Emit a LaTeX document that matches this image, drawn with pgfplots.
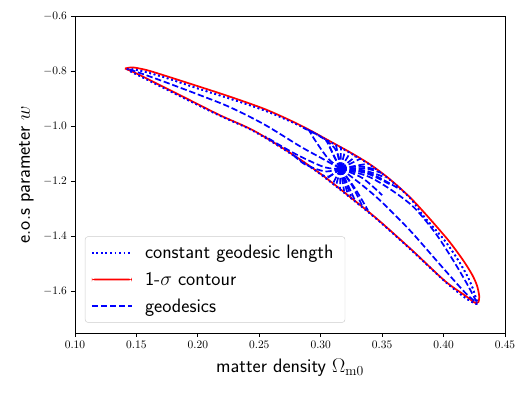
\documentclass[border=0pt]{standalone}
\usepackage{pgfplots}
\pgfplotsset{compat=1.18}
\pgfplotstableread{
x y
0.1423 -0.7920
0.1488 -0.7945
0.1611 -0.8073
0.1749 -0.8255
0.2018 -0.8655
0.2262 -0.9000
0.2538 -0.9418
0.2750 -0.9818
0.2913 -1.0164
0.3076 -1.0564
0.3239 -1.0964
0.3401 -1.1400
0.3564 -1.1945
0.3727 -1.2600
0.3833 -1.3236
0.3947 -1.3818
0.4028 -1.4255
0.4126 -1.4909
0.4191 -1.5418
0.4232 -1.5818
0.4260 -1.6182
0.4276 -1.6436
0.4250 -1.6418
0.4175 -1.6218
0.4012 -1.5636
0.3755 -1.4564
0.3483 -1.3473
0.3295 -1.2782
0.2994 -1.1727
0.2726 -1.0909
0.2449 -1.0164
0.2180 -0.9618
0.1912 -0.9036
0.1635 -0.8418
0.1513 -0.8145
0.1448 -0.8000
0.1423 -0.7920
}\dottedtable
\begin{document}
\begin{tikzpicture}
\path[use as bounding box] (-65.45pt,-55pt) rectangle (395.35pt,290.6pt);
\begin{axis}[
  at={(0pt,0pt)}, anchor=south west,
  scale only axis, width=375.3pt, height=276.6pt,
  xmin=0.10, xmax=0.45, ymin=-1.75, ymax=-0.6,
  xtick={0.10,0.15,0.20,0.25,0.30,0.35,0.40,0.45},
  ytick={-1.6,-1.4,-1.2,-1.0,-0.8,-0.6},
  xticklabel style={/pgf/number format/.cd,fixed,fixed zerofill,precision=2},
  yticklabel style={/pgf/number format/.cd,fixed,fixed zerofill,precision=1},
  tick align=outside, xtick pos=bottom, ytick pos=left,
  major tick length=3.5pt,
  axis line style={line width=0.8pt},
  every tick/.style={black,line width=0.8pt},
  xlabel={matter density $\Omega_{\mathrm{m0}}$},
  ylabel={e.o.s parameter $w$},
  x label style={at={(axis description cs:0.5,-0.1262)}, anchor=base, font=\sffamily\fontsize{17}{20}\selectfont},
  y label style={at={(axis description cs:-0.1047,0.5)}, rotate=0, anchor=base, font=\sffamily\fontsize{17}{20}\selectfont},
  legend cell align=left,
  legend image code/.code={\draw[#1] (0pt,0pt) -- (35pt,0pt);},
  legend style={at={(axis description cs:0.0232,0.0325)}, anchor=south west,
    draw=black!20, rounded corners=2.5pt, fill=white,
    font=\sffamily\fontsize{17}{20}\selectfont, row sep=6.2pt, inner xsep=5pt, inner ysep=5.5pt,
    /tikz/every odd column/.append style={column sep=8.7pt}},
  dotsty/.style={color=blue, line width=1.5pt, dash pattern=on 1.5pt off 2.475pt, smooth, tension=0.5},
  geo/.style={color=blue, line width=1.5pt, dash pattern=on 5.55pt off 2.4pt, smooth, tension=0.5, forget plot},
]
% constant geodesic length (legend entry 1)
\addplot[dotsty] table {\dottedtable};
\addlegendentry{constant geodesic length\hspace*{3pt}}
% 1-sigma contour (legend entry 2)
\addplot[color=red, line width=1.5pt, solid, smooth, tension=0.5,
  legend image code/.code={\fill[red,draw=none] (0pt,-0.75pt) rectangle (35pt,0.75pt);}] coordinates {
(0.1407,-0.7902) (0.1472,-0.7865) (0.1586,-0.7964) (0.1733,-0.8164) (0.2018,-0.8571)
(0.2262,-0.8927) (0.2538,-0.9364) (0.2750,-0.9782) (0.2913,-1.0145) (0.3076,-1.0545)
(0.3239,-1.0945) (0.3401,-1.1382) (0.3564,-1.1927) (0.3727,-1.2582) (0.3849,-1.3164)
(0.3971,-1.3782) (0.4053,-1.4218) (0.4158,-1.4855) (0.4232,-1.5382) (0.4272,-1.5782)
(0.4290,-1.6164) (0.4284,-1.6373) (0.4268,-1.6420) (0.4240,-1.6364) (0.4188,-1.6182) (0.4012,-1.5618)
(0.3755,-1.4545) (0.3483,-1.3455) (0.3295,-1.2764) (0.2994,-1.1709) (0.2726,-1.0891)
(0.2449,-1.0145) (0.2180,-0.9600) (0.1912,-0.9000) (0.1635,-0.8382) (0.1513,-0.8109)
(0.1448,-0.7982) (0.1407,-0.7902)};
\addlegendentry{1-$\sigma$ contour}
% geodesics (legend entry 3)
\addplot[color=blue, line width=1.5pt, dash pattern=on 5.55pt off 2.4pt, smooth, tension=0.5] coordinates {(0.3161,-1.1538) (0.2994,-1.1127) (0.2832,-1.0727) (0.2538,-0.9927) (0.2262,-0.9309) (0.2018,-0.8873) (0.1692,-0.8327) (0.1497,-0.8018) (0.1431,-0.7927)};
\addlegendentry{geodesics}
% dotted curve again on top of the red contour
\addplot[dotsty, forget plot] table {\dottedtable};
\addplot[geo] coordinates {(0.3161,-1.1538) (0.3149,-1.1164) (0.3108,-1.0764) (0.2994,-1.0364) (0.2856,-1.0055)};
\addplot[geo] coordinates {(0.3161,-1.1538) (0.3035,-1.1491) (0.2832,-1.1091) (0.2669,-1.0691) (0.2547,-1.0364)};
\addplot[geo] coordinates {(0.3161,-1.1538) (0.3035,-1.1636) (0.2872,-1.1382) (0.2766,-1.1000)};
\addplot[geo] coordinates {(0.3161,-1.1538) (0.3068,-1.1818) (0.3011,-1.1764)};
\addplot[geo] coordinates {(0.3161,-1.1538) (0.3059,-1.1164) (0.2954,-1.0509) (0.2905,-1.0145)};
\addplot[geo] coordinates {(0.3161,-1.1538) (0.3108,-1.1091) (0.3051,-1.0509)};
\addplot[geo] coordinates {(0.3161,-1.1538) (0.3043,-1.0491)};
\addplot[geo] coordinates {(0.3161,-1.1538) (0.3125,-1.0691)};
\addplot[geo] coordinates {(0.3161,-1.1538) (0.3165,-1.0745)};
\addplot[geo] coordinates {(0.3161,-1.1538) (0.3198,-1.0891)};
\addplot[geo] coordinates {(0.3161,-1.1538) (0.3239,-1.0964)};
\addplot[geo] coordinates {(0.3161,-1.1538) (0.3279,-1.1109)};
\addplot[geo] coordinates {(0.3161,-1.1538) (0.3320,-1.1182)};
\addplot[geo] coordinates {(0.3161,-1.1538) (0.3051,-1.1891)};
\addplot[geo] coordinates {(0.3161,-1.1538) (0.3125,-1.2145)};
\addplot[geo] coordinates {(0.3161,-1.1538) (0.3157,-1.2273)};
\addplot[geo] coordinates {(0.3161,-1.1538) (0.3190,-1.2345)};
\addplot[geo] coordinates {(0.3161,-1.1538) (0.3100,-1.2073)};
\addplot[geo] coordinates {(0.3161,-1.1538) (0.3222,-1.2491)};
\addplot[geo] coordinates {(0.3161,-1.1538) (0.3247,-1.2545)};
\addplot[geo] coordinates {(0.3161,-1.1538) (0.3279,-1.2691)};
\addplot[geo] coordinates {(0.3161,-1.1538) (0.3255,-1.2145) (0.3336,-1.2873)};
\addplot[geo] coordinates {(0.3161,-1.1538) (0.3320,-1.2073) (0.3483,-1.2691) (0.3727,-1.3782) (0.3971,-1.5018) (0.4175,-1.6036) (0.4274,-1.6420)};
\addplot[geo] coordinates {(0.3161,-1.1538) (0.3385,-1.1818) (0.3580,-1.2327) (0.3759,-1.2945) (0.3930,-1.3855) (0.4069,-1.4800) (0.4185,-1.5673) (0.4274,-1.6420)};
\addplot[geo] coordinates {(0.3161,-1.1538) (0.3279,-1.2255) (0.3385,-1.3055)};
\addplot[geo] coordinates {(0.3161,-1.1538) (0.3401,-1.1709) (0.3646,-1.2291)};
\addplot[geo] coordinates {(0.3161,-1.1538) (0.3361,-1.1527) (0.3491,-1.1691)};
\addplot[geo] coordinates {(0.3161,-1.1538) (0.3304,-1.1418) (0.3377,-1.1364)};
\addplot[geo] coordinates {(0.3161,-1.1538) (0.3353,-1.1600) (0.3523,-1.1855)};
\addplot[geo] coordinates {(0.3161,-1.1538) (0.3320,-1.1455) (0.3442,-1.1564)};
\addplot[geo] coordinates {(0.3161,-1.1538) (0.3370,-1.1700) (0.3560,-1.2100)};
\addplot[geo] coordinates {(0.3161,-1.1538) (0.3340,-1.1880) (0.3500,-1.2500)};
\end{axis}
\end{tikzpicture}
\end{document}
